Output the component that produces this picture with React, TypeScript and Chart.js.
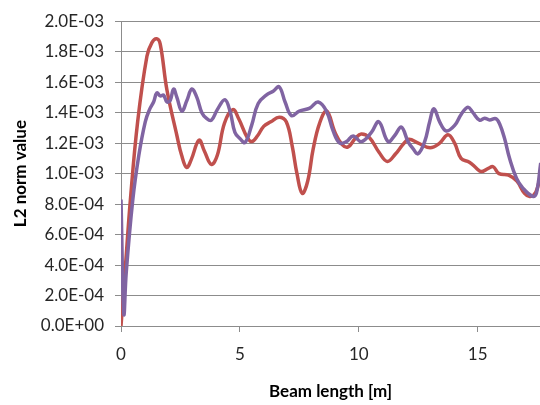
import React, { useEffect, useRef } from "react";
import { Chart, registerables } from "chart.js";

Chart.register(...registerables);

// Beam length [m] and L2 norm values
const redX = [0, 0.2, 0.39, 0.7, 1.09, 1.3, 1.5, 1.65, 1.93, 2.35, 2.55, 2.76, 2.95, 3.28, 3.5, 3.8, 4.05, 4.35, 4.7, 4.95, 5.3, 5.5, 5.75, 6.0, 6.3, 6.65, 6.95, 7.2, 7.4, 7.62, 7.85, 8.08, 8.35, 8.65, 9.0, 9.3, 9.55, 9.85, 10.1, 10.45, 10.85, 11.2, 11.55, 11.85, 12.1, 12.5, 13.0, 13.4, 13.75, 14.03, 14.3, 14.65, 14.95, 15.15, 15.45, 15.65, 15.9, 16.3, 16.65, 16.97, 17.2, 17.45, 17.65];
const redY = [0, 0.42e-3, 0.82e-3, 1.34e-3, 1.77e-3, 1.86e-3, 1.885e-3, 1.85e-3, 1.55e-3, 1.25e-3, 1.12e-3, 1.04e-3, 1.09e-3, 1.22e-3, 1.15e-3, 1.06e-3, 1.12e-3, 1.33e-3, 1.42e-3, 1.36e-3, 1.24e-3, 1.21e-3, 1.25e-3, 1.31e-3, 1.34e-3, 1.37e-3, 1.34e-3, 1.18e-3, 1.0e-3, 0.87e-3, 0.95e-3, 1.16e-3, 1.33e-3, 1.41e-3, 1.27e-3, 1.19e-3, 1.175e-3, 1.23e-3, 1.26e-3, 1.235e-3, 1.14e-3, 1.08e-3, 1.13e-3, 1.19e-3, 1.225e-3, 1.2e-3, 1.17e-3, 1.2e-3, 1.255e-3, 1.2e-3, 1.1e-3, 1.075e-3, 1.035e-3, 1.013e-3, 1.035e-3, 1.045e-3, 1.0e-3, 0.99e-3, 0.95e-3, 0.87e-3, 0.85e-3, 0.88e-3, 1.0e-3];

const purpleX = [0, 0.12, 0.22, 0.49, 0.75, 1.02, 1.2, 1.37, 1.51, 1.65, 1.79, 1.93, 2.07, 2.21, 2.35, 2.56, 2.77, 2.98, 3.19, 3.4, 3.61, 3.8, 4.05, 4.37, 4.6, 4.79, 5.0, 5.22, 5.49, 5.77, 6.15, 6.4, 6.65, 6.9, 7.17, 7.5, 7.94, 8.29, 8.64, 8.92, 9.2, 9.48, 9.76, 10.11, 10.53, 10.84, 11.23, 11.51, 11.79, 12.07, 12.28, 12.49, 12.77, 12.98, 13.16, 13.4, 13.68, 14.03, 14.31, 14.59, 14.8, 15.08, 15.29, 15.5, 15.76, 15.92, 16.13, 16.34, 16.63, 16.9, 17.32, 17.47, 17.65];
const purpleY = [0.83e-3, 0.08e-3, 0.35e-3, 0.82e-3, 1.12e-3, 1.34e-3, 1.42e-3, 1.47e-3, 1.53e-3, 1.51e-3, 1.515e-3, 1.47e-3, 1.48e-3, 1.555e-3, 1.5e-3, 1.41e-3, 1.48e-3, 1.555e-3, 1.5e-3, 1.4e-3, 1.36e-3, 1.35e-3, 1.42e-3, 1.485e-3, 1.4e-3, 1.27e-3, 1.23e-3, 1.205e-3, 1.315e-3, 1.46e-3, 1.52e-3, 1.54e-3, 1.57e-3, 1.47e-3, 1.38e-3, 1.41e-3, 1.43e-3, 1.47e-3, 1.41e-3, 1.28e-3, 1.2e-3, 1.21e-3, 1.247e-3, 1.21e-3, 1.27e-3, 1.34e-3, 1.21e-3, 1.25e-3, 1.305e-3, 1.21e-3, 1.164e-3, 1.13e-3, 1.21e-3, 1.34e-3, 1.425e-3, 1.34e-3, 1.28e-3, 1.316e-3, 1.39e-3, 1.435e-3, 1.4e-3, 1.35e-3, 1.364e-3, 1.352e-3, 1.36e-3, 1.327e-3, 1.23e-3, 1.1e-3, 0.97e-3, 0.905e-3, 0.85e-3, 0.872e-3, 1.07e-3];

const xTicks = [0, 5, 10, 15];
const yTicks = [0, 0.0002, 0.0004, 0.0006, 0.0008, 0.001, 0.0012, 0.0014, 0.0016, 0.0018, 0.002];
const yTickLabels = ["0.0E+00", "2.0E-04", "4.0E-04", "6.0E-04", "8.0E-04", "1.0E-03", "1.2E-03", "1.4E-03", "1.6E-03", "1.8E-03", "2.0E-03"];

const xTitle = "Beam length [m]";
const yTitle = "L2 norm value";

export default function App() {
  const ref = useRef<HTMLCanvasElement | null>(null);
  useEffect(() => {
    if (!ref.current) return;
    const toPts = (xs: number[], ys: number[]) => xs.map((x, i) => ({ x, y: ys[i] }));
    const font = "Lato, 'Liberation Sans', sans-serif";
    const chart = new Chart(ref.current, {
      type: "scatter",
      data: {
        datasets: [
          {
            label: "purple",
            data: toPts(purpleX, purpleY),
            showLine: true,
            borderColor: "#8064A2",
            borderWidth: 3.5,
            pointRadius: 0,
            tension: 0.4,
            fill: false,
          },
          {
            label: "red",
            data: toPts(redX, redY),
            showLine: true,
            borderColor: "#C0504D",
            borderWidth: 3.5,
            pointRadius: 0,
            tension: 0.4,
            fill: false,
          },
        ],
      },
      options: {
        animation: false,
        responsive: false,
        layout: { padding: { left: 6, top: 18, right: 0, bottom: 0 } },
        plugins: { legend: { display: false }, tooltip: { enabled: false } },
        scales: {
          x: {
            type: "linear",
            min: 0,
            max: 17.62,
            afterBuildTicks: (s: any) => {
              s.ticks = xTicks.map((v) => ({ value: v }));
            },
            afterFit: (s: any) => {
              s.height = 79;
            },
            grid: { drawOnChartArea: false, drawTicks: true, tickLength: 6, color: "#8c8c8c" },
            border: { display: false },
            ticks: {
              color: "#262626",
              font: { family: font, size: 17 },
              padding: 12,
              maxRotation: 0,
              callback: (v: any) => String(v),
            },
            title: {
              display: true,
              text: xTitle,
              color: "#000",
              font: { family: font, size: 17, weight: "bold" },
              padding: { top: 4, bottom: 3 },
            },
          },
          y: {
            type: "linear",
            min: 0,
            max: 0.002,
            afterBuildTicks: (s: any) => {
              s.ticks = yTicks.map((v) => ({ value: v }));
            },
            afterFit: (s: any) => {
              s.width = 115;
            },
            grid: { color: "#8c8c8c", tickLength: 6, lineWidth: 1 },
            border: { display: true, color: "#8c8c8c" },
            ticks: {
              color: "#262626",
              font: { family: font, size: 17 },
              padding: 11,
              callback: (_v: any, i: number) => yTickLabels[i],
            },
            title: {
              display: true,
              text: yTitle,
              color: "#000",
              font: { family: font, size: 17, weight: "bold" },
              padding: { top: 4, bottom: 4 },
            },
          },
        },
      },
    } as any);
    return () => chart.destroy();
  }, []);
  return (
    <div style={{ position: "fixed", left: 0, top: 0, width: 540, height: 405, background: "#fff" }}>
      <canvas ref={ref} width={540} height={405} style={{ width: 540, height: 405 }} />
    </div>
  );
}
